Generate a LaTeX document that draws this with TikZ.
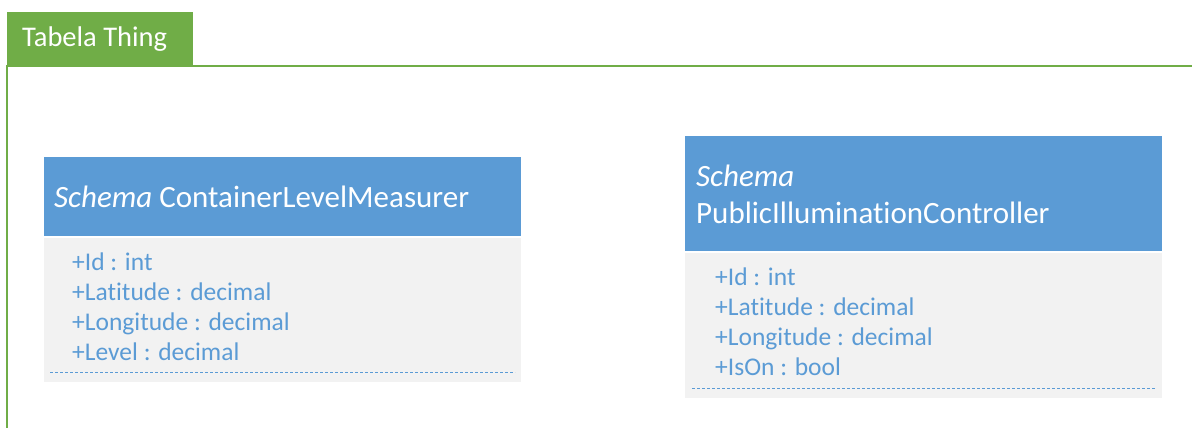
\documentclass[tikz,border=0pt]{standalone}
\usepackage{fontspec}
\setmainfont{Carlito}[Ligatures=CommonOff]
\definecolor{tabgreen}{HTML}{70AD47}
\definecolor{hdrblue}{HTML}{5B9BD5}
\definecolor{bodygray}{HTML}{F2F2F2}
\begin{document}
\begin{tikzpicture}[x=1pt,y=-1pt,
  box/.style={draw=none,inner sep=0pt,anchor=north west},
  hdr/.style={box,fill=hdrblue},
  bodybox/.style={box,fill=bodygray},
  hdrtext/.style={anchor=base west,inner sep=0pt,text=white,font=\fontsize{31}{37}\selectfont},
  attr/.style={anchor=base west,inner sep=0pt,text=hdrblue,font=\fontsize{25.5}{30}\selectfont},
  tabtext/.style={anchor=base west,inner sep=0pt,text=white,font=\fontsize{28.5}{34}\selectfont},
  sep/.style={draw=hdrblue,line width=1pt,dash pattern=on 3pt off 2pt},
  frame/.style={draw=tabgreen,line width=2pt}]
\useasboundingbox (0,0) rectangle (1192,428);
% tab
\node[box,fill=tabgreen,minimum width=186,minimum height=53] (tab) at (7,12) {};
\node[tabtext] (tabt) at (22,47) {Tabela Thing};
\coordinate (fl) at (7,66);
\coordinate (fr) at (1192,66);
\coordinate (fb) at (7,428);
\draw[frame] (fr) -- (fl) -- (fb);
% left class
\node[hdr,minimum width=477,minimum height=79] (h1) at (44,157) {};
\node[bodybox,minimum width=477,minimum height=144] (b1) at (44,238) {};
\node[hdrtext] (t1) at (54,207) {\itshape Schema\upshape{} ContainerLevelMeasurer};
\node[attr] (a11) at (72,270) {+Id : int};
\node[attr] (a12) at (72,300) {+Latitude : decimal};
\node[attr] (a13) at (72,330) {+Longitude : decimal};
\node[attr] (a14) at (72,360) {+Level : decimal};
\coordinate (d1a) at (50,372);
\coordinate (d1b) at (515,372);
\draw[sep] (d1a) -- (d1b);
% right class
\node[hdr,minimum width=477,minimum height=115] (h2) at (685,136) {};
\node[bodybox,minimum width=477,minimum height=145] (b2) at (685,253) {};
\node[hdrtext] (t2a) at (696,186) {\itshape Schema};
\node[hdrtext] (t2b) at (696,223) {PublicIlluminationController};
\node[attr] (a21) at (715,285) {+Id : int};
\node[attr] (a22) at (715,315) {+Latitude : decimal};
\node[attr] (a23) at (715,345) {+Longitude : decimal};
\node[attr] (a24) at (715,375) {+IsOn : bool};
\coordinate (d2a) at (692,388);
\coordinate (d2b) at (1155,388);
\draw[sep] (d2a) -- (d2b);
\end{tikzpicture}
\end{document}
